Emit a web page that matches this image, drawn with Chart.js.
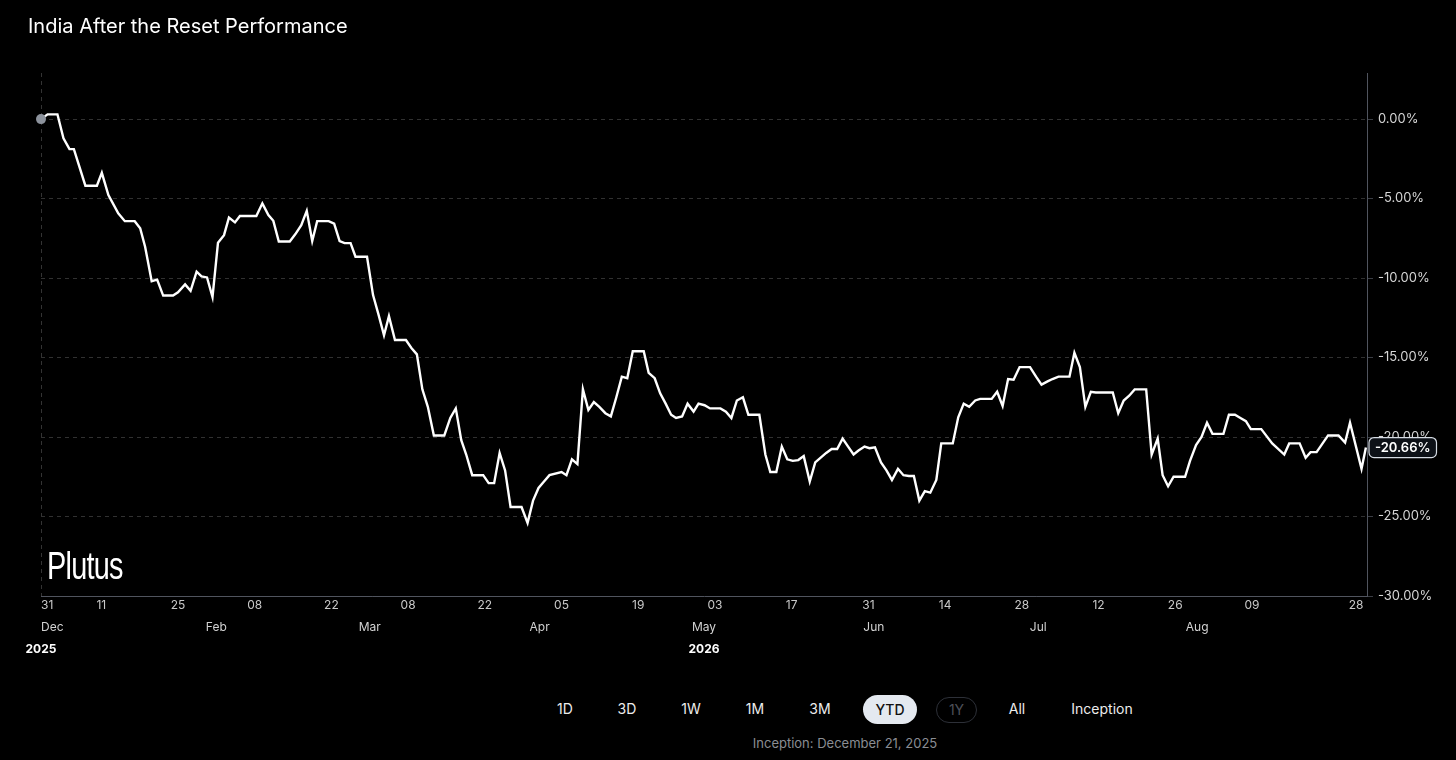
<!DOCTYPE html>
<html><head><meta charset="utf-8">
<script src="https://cdn.jsdelivr.net/npm/chart.js@4.4.1/dist/chart.umd.min.js"></script>
<style>
html,body{margin:0;padding:0;background:#000;width:1456px;height:760px;overflow:hidden;font-family:Inter,'Noto Sans',sans-serif;}
#title{position:absolute;left:28px;top:13px;color:#fff;font-size:20px;line-height:26px;font-weight:400;white-space:nowrap;}
#wrap{position:absolute;left:0;top:0;width:1456px;height:662px;}
#mark{position:absolute;left:47px;top:544px;color:#fff;font-family:'Liberation Sans',Arial,sans-serif;font-size:39px;line-height:44px;letter-spacing:-1px;transform:scaleX(0.74);transform-origin:left top;white-space:nowrap;}
.btn{position:absolute;top:699px;height:20px;transform:translateX(-50%);color:#ececec;font-size:14px;line-height:20px;white-space:nowrap;}
#ytd{position:absolute;left:863px;top:695px;width:54px;height:29px;border-radius:15px;background:#e4e9f0;color:#111;font-size:14px;line-height:29px;text-align:center;font-weight:500;}
#oney{position:absolute;left:936px;top:697px;width:39px;height:24px;border-radius:13px;border:1px solid #2d3038;color:#4d5058;font-size:14px;line-height:24px;text-align:center;}
#inc{position:absolute;left:845px;top:734px;transform:translateX(-50%);color:#8a8d93;font-size:13px;line-height:18px;white-space:nowrap;}
</style></head>
<body>
<div id="wrap"><canvas id="c" width="1456" height="662"></canvas></div>
<div id="title">India After the Reset Performance</div>
<div id="mark">Plutus</div>
<span class="btn" style="left:565px">1D</span>
<span class="btn" style="left:627px">3D</span>
<span class="btn" style="left:691px">1W</span>
<span class="btn" style="left:755px">1M</span>
<span class="btn" style="left:820px">3M</span>
<div id="ytd">YTD</div>
<div id="oney">1Y</div>
<span class="btn" style="left:1017px">All</span>
<span class="btn" style="left:1102px">Inception</span>
<div id="inc">Inception: December 21, 2025</div>
<script>
// days since Dec 31, 2025
const dayValues = [0,1.2,3.0,4.1,5.2,6.0,8.1,10.2,11.1,12.3,14.1,15.3,17.1,18.1,19.0,20.2,21.2,22.3,24.1,25.0,26.3,27.3,28.4,29.3,30.3,31.3,32.3,33.4,34.3,35.4,36.3,
39.3,40.4,41.5,42.4,43.4,45.4,46.4,47.5,48.5,49.5,50.4,52.5,53.5,54.5,55.4,56.5,57.4,59.5,60.6,61.6,62.6,63.5,64.6,66.6,67.6,68.6,69.6,70.6,71.7,73.6,
74.7,75.7,76.7,77.6,78.7,80.7,81.7,82.7,83.7,84.7,85.7,87.7,88.8,89.8,90.8,91.8,92.8,95.0,95.9,96.9,97.9,98.9,99.9,100.9,101.9,103.0,104.0,105.0,106.0,107.0,108.0,110.0,
110.9,112.0,113.0,114.0,115.0,115.9,117.0,118.0,119.1,120.0,121.1,122.1,124.0,125.0,126.0,127.0,128.1,129.1,131.1,132.2,133.1,134.2,135.2,136.2,137.2,138.2,139.2,140.3,141.3,142.3,143.3,144.3,145.3,146.3,147.3,
148.3,149.2,150.3,151.2,152.2,153.3,154.3,155.3,156.4,157.4,158.4,159.3,160.3,161.3,162.3,163.4,164.3,166.4,167.4,168.4,169.4,170.5,171.4,173.5,174.5,175.5,176.5,177.5,178.6,180.5,181.6,182.6,
183.7,184.6,185.7,187.7,188.6,189.6,190.6,191.6,192.5,195.6,196.6,197.6,198.6,199.6,201.7,202.7,203.8,204.7,205.7,206.7,208.8,209.7,210.8,211.8,212.8,213.8,215.8,216.8,217.9,218.9,219.9,
220.8,222.7,224.7,226.9,227.8,229.7,230.8,231.7,232.8,233.9,234.9,236.8,238.0,238.9,241.0,241.8];
const pctValues = [0,0.3,0.3,-1.21,-1.89,-1.89,-4.19,-4.19,-3.38,-4.78,-5.93,-6.42,-6.42,-6.87,-8.03,-10.2,-10.1,-11.1,-11.1,-10.9,-10.4,-10.8,-9.6,-9.9,-9.96,-11.2,-7.78,-7.3,-6.2,-6.5,-6.1,
-6.1,-5.3,-6.04,-6.4,-7.7,-7.7,-7.25,-6.67,-5.77,-7.67,-6.42,-6.42,-6.57,-7.67,-7.8,-7.8,-8.66,-8.66,-11.07,-12.3,-13.6,-12.4,-13.9,-13.9,-14.4,-14.8,-17.0,-18.1,-19.9,-19.9,
-18.8,-18.2,-20.2,-21.1,-22.4,-22.4,-22.9,-22.9,-21.0,-22.1,-24.4,-24.4,-25.4,-24.0,-23.2,-22.8,-22.4,-22.2,-22.4,-21.4,-21.7,-17.0,-18.3,-17.8,-18.1,-18.5,-18.7,-17.5,-16.2,-16.3,-14.6,-14.6,
-15.96,-16.3,-17.25,-17.9,-18.6,-18.8,-18.7,-17.9,-18.4,-17.9,-18.0,-18.2,-18.2,-18.4,-18.8,-17.7,-17.5,-18.6,-18.6,-21.1,-22.2,-22.2,-20.6,-21.4,-21.5,-21.45,-21.2,-22.8,-21.6,-21.3,-21.0,-20.75,-20.75,-20.1,-20.6,
-21.1,-20.85,-20.6,-20.7,-20.65,-21.6,-22.1,-22.7,-22.0,-22.4,-22.45,-22.45,-24.0,-23.4,-23.5,-22.7,-20.4,-20.4,-18.76,-17.9,-18.1,-17.7,-17.6,-17.6,-17.15,-18.05,-16.35,-16.4,-15.6,-15.6,-16.2,-16.7,
-16.5,-16.35,-16.2,-16.2,-14.7,-15.6,-18.1,-17.15,-17.2,-17.2,-18.5,-17.7,-17.4,-17.0,-17.0,-21.1,-20.1,-22.4,-23.1,-22.5,-22.5,-21.5,-20.5,-20.0,-19.1,-19.8,-19.8,-18.6,-18.6,-18.8,-19.0,
-19.5,-19.5,-20.4,-21.1,-20.4,-20.4,-21.3,-20.95,-20.95,-20.4,-19.9,-19.9,-20.35,-19.1,-22.0,-20.66];

const dayTickDays   = [0,11,25,39,53,67,81,95,109,123,137,151,165,179,193,207,221,240,242];
const dayTickLabels = ['31','11','25','08','22','08','22','05','19','03','17','31','14','28','12','26','09','28',''];
const monthTickDays   = [0,32,60,91,121,152,182,211,242];
const monthTickLabels = ['Dec','Feb','Mar','Apr','May','Jun','Jul','Aug',''];
const yearTickDays   = [0,121];
const yearTickLabels = ['2025','2026'];
const yTickValues = [0,-5,-10,-15,-20,-25,-30];

const X_MIN = 0, X_MAX = 242, Y_MIN = -30, Y_MAX = 2.9;

const points = dayValues.map((d,i)=>({x:d, y:pctValues[i]}));

function setTicks(list){ return function(scale){ scale.ticks = list.map(v=>({value:v})); }; }

const lastBadge = {
  id:'lastBadge',
  afterDraw(chart){
    const ys = chart.scales.y;
    const v = pctValues[pctValues.length-1];
    const py = ys.getPixelForValue(v);
    const ctx = chart.ctx;
    const label = v.toFixed(2)+'%';
    ctx.save();
    ctx.font = '600 13px Inter, sans-serif';
    const w = ctx.measureText(label).width + 12, h = 20, x0 = ys.left + 2;
    ctx.beginPath();
    ctx.roundRect(x0, py - h/2, w, h, 5);
    ctx.fillStyle = '#0d1117'; ctx.fill();
    ctx.strokeStyle = '#d5dbe3'; ctx.lineWidth = 1.2; ctx.stroke();
    ctx.fillStyle = '#ffffff'; ctx.textBaseline = 'middle'; ctx.textAlign = 'left';
    ctx.fillText(label, x0 + 6, py + 0.5);
    ctx.restore();
  }
};

const tickFont = {family:"Inter, 'Noto Sans', sans-serif", size:12};

new Chart(document.getElementById('c'), {
  type:'line',
  data:{datasets:[{
    data:points,
    borderColor:'#ffffff',
    borderWidth:2.4,
    tension:0,
    clip:8,
    pointRadius:(c)=>c.dataIndex===0?5:0,
    pointHoverRadius:0,
    pointBackgroundColor:'#8c929c',
    pointBorderWidth:0,
    xAxisID:'x', yAxisID:'y'
  }]},
  options:{
    responsive:false, animation:false,
    layout:{padding:{top:73,left:41,right:0,bottom:0}},
    plugins:{legend:{display:false},tooltip:{enabled:false}},
    scales:{
      x:{type:'linear',position:'bottom',min:X_MIN,max:X_MAX,weight:0,
        afterBuildTicks:setTicks(dayTickDays),
        afterFit:(s)=>{s.height=22;},
        grid:{display:true,drawTicks:false,color:(c)=>c.index===0?'#333333':'rgba(0,0,0,0)',lineWidth:1},
        border:{display:true,color:'#50545e',width:1,dash:[4,4]},
        ticks:{autoSkip:false,maxRotation:0,align:'inner',padding:2,color:'#c9c9c9',font:tickFont,
          callback:(v,i)=>dayTickLabels[i]}
      },
      xm:{type:'linear',position:'bottom',min:X_MIN,max:X_MAX,weight:1,
        afterBuildTicks:setTicks(monthTickDays),
        afterFit:(s)=>{s.height=22;},
        grid:{display:false,drawTicks:false},border:{display:false},
        ticks:{autoSkip:false,maxRotation:0,align:'inner',padding:2,color:'#d2d2d2',font:tickFont,
          callback:(v,i)=>monthTickLabels[i]}
      },
      xy:{type:'linear',position:'bottom',min:X_MIN,max:X_MAX,weight:2,
        afterBuildTicks:setTicks(yearTickDays),
        afterFit:(s)=>{s.height=22;},
        grid:{display:false,drawTicks:false},border:{display:false},
        ticks:{autoSkip:false,maxRotation:0,align:'center',padding:2,color:'#ffffff',font:{family:tickFont.family,size:12,weight:'bold'},
          callback:(v,i)=>yearTickLabels[i]}
      },
      y:{type:'linear',position:'right',min:Y_MIN,max:Y_MAX,
        afterBuildTicks:setTicks(yTickValues),
        afterFit:(s)=>{s.width=89;},
        grid:{color:'#313131',lineWidth:1,drawTicks:true,tickLength:6,tickColor:'#3a3d44',tickBorderDash:[]},
        border:{display:true,color:'#50545e',width:1,dash:[4,4]},
        ticks:{padding:5,color:'#d6d6d6',font:{family:tickFont.family,size:13},
          callback:(v)=>v.toFixed(2)+'%'}
      }
    }
  },
  plugins:[lastBadge]
});
</script>
</body></html>
